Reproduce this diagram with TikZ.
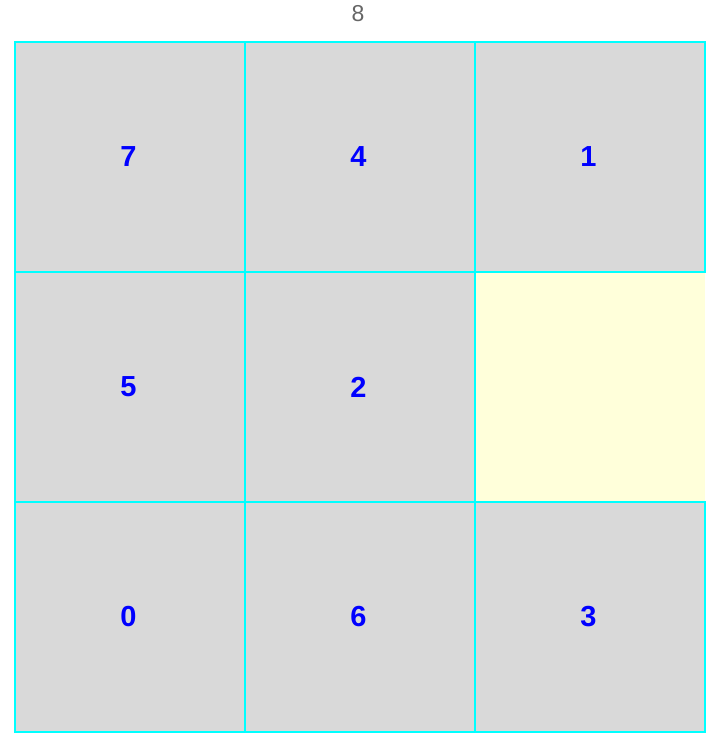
\documentclass[tikz,border=0pt]{standalone}
\usepackage{fontspec}
\setmainfont{Liberation Sans}
\definecolor{cellgray}{HTML}{D9D9D9}
\definecolor{celledge}{HTML}{00FFFF}
\definecolor{numblue}{HTML}{0000FF}
\definecolor{emptyyellow}{HTML}{FFFFDA}
\definecolor{titlegray}{HTML}{666666}
\begin{document}
\begin{tikzpicture}[x=1pt,y=-1pt,
  tile/.style={draw=celledge,line width=1.5pt,fill=cellgray,minimum width=230pt,minimum height=230pt,inner sep=0pt,outer sep=0pt},
  num/.style={text=numblue,font=\fontsize{29}{31}\selectfont\bfseries,inner sep=0pt},
  blank/.style={fill=emptyyellow,minimum width=230pt,minimum height=230pt,inner sep=0pt,outer sep=0pt},
  title/.style={text=titlegray,font=\fontsize{23}{25}\selectfont}]
\useasboundingbox (0,0) rectangle (720,746);
\node[blank] (c12) at (590,387) {};
\node[tile] (c00) at (130,157) {};
\node[tile] (c01) at (360,157) {};
\node[tile] (c02) at (590,157) {};
\node[tile] (c10) at (130,387) {};
\node[tile] (c11) at (360,387) {};
\node[tile] (c20) at (130,617) {};
\node[tile] (c21) at (360,617) {};
\node[tile] (c22) at (590,617) {};
\node[num] (n00) at ([xshift=-1.5pt]c00.center) {7};
\node[num] (n01) at ([xshift=-1.5pt]c01.center) {4};
\node[num] (n02) at ([xshift=-1.5pt]c02.center) {1};
\node[num] (n10) at ([xshift=-1.5pt]c10.center) {5};
\node[num] (n11) at ([xshift=-1.5pt]c11.center) {2};
\node[num] (n20) at ([xshift=-1.5pt]c20.center) {0};
\node[num] (n21) at ([xshift=-1.5pt]c21.center) {6};
\node[num] (n22) at ([xshift=-1.5pt]c22.center) {3};
\node[title] (t) at (358,14) {8};
\end{tikzpicture}
\end{document}
